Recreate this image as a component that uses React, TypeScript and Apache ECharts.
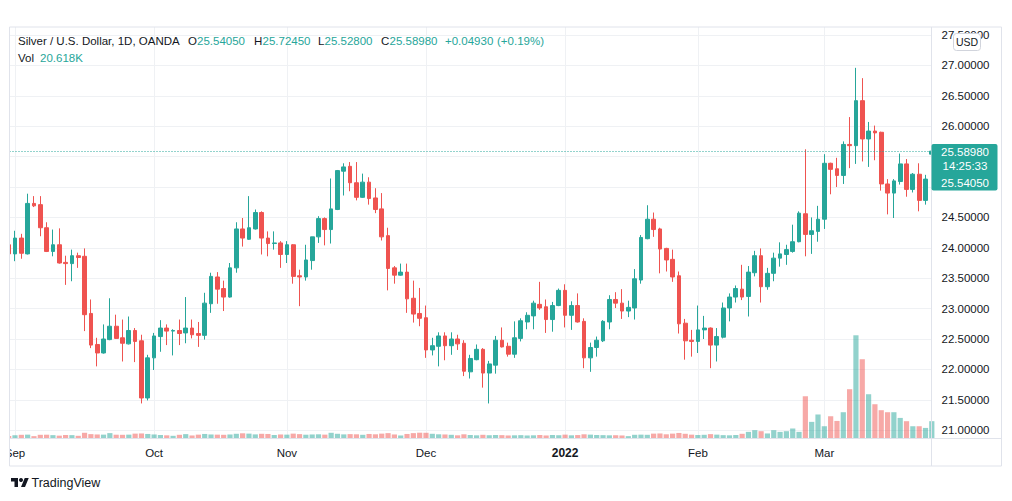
import React, { useEffect, useRef } from 'react';
import * as echarts from 'echarts';

// ---- data (bar index 0 = 1 Sep 2021, -1 = 31 Aug) ----
const firstIndex = -1;
const open = [
  24.05,
  23.90, 24.16, 23.90, 24.73, 24.71, 24.33, 23.94, 24.05, 23.76, 23.74,
  23.87, 23.86, 22.92, 22.41, 22.27, 22.49, 22.71, 22.52, 22.42, 22.64,
  22.47, 21.53, 22.19, 22.54, 22.68, 22.63, 22.64, 22.60, 22.68, 22.59,
  22.56, 23.08, 23.52, 23.33, 23.19, 23.67, 24.31, 24.14, 24.31, 24.58,
  24.16, 24.07, 24.08, 23.89, 24.05, 23.54, 23.52, 23.79, 24.18, 24.48,
  24.30, 24.63, 25.26, 25.34, 25.07, 24.83, 25.08, 24.82, 24.64, 24.20,
  23.67, 23.55, 23.60, 23.17, 22.92, 22.85, 22.32, 22.38, 22.55, 22.39,
  22.50, 22.43, 21.96, 22.16, 22.33, 21.94, 22.07, 22.48, 22.38, 22.25,
  22.51, 22.78, 22.88, 23.07, 23.03, 22.82, 23.05, 23.30, 22.89, 23.05,
  22.79, 22.19, 22.36, 22.47, 22.78, 23.15, 23.09, 22.96, 23.01, 23.47,
  24.15, 24.47, 24.31, 23.99, 23.81, 23.54, 22.76, 22.48, 22.46, 22.65,
  22.68, 22.40, 22.53, 23.01, 23.19, 23.32, 23.20, 23.59, 23.87, 23.36,
  23.58, 23.83, 23.89, 23.94, 24.10, 24.56, 24.22, 24.27, 24.47, 25.39,
  25.30, 25.19, 25.70, 25.68, 26.42, 25.79, 25.92, 25.90, 25.05, 24.90,
  25.09, 25.38, 24.96, 25.21, 24.78, 25.5405,
];
const close = [
  23.90,
  24.16, 23.91, 24.73, 24.69, 24.33, 23.94, 24.05, 23.75, 23.74, 23.87,
  23.84, 22.90, 22.40, 22.27, 22.50, 22.71, 22.51, 22.43, 22.64, 22.46,
  21.53, 22.19, 22.55, 22.68, 22.63, 22.64, 22.59, 22.68, 22.57, 22.56,
  23.09, 23.53, 23.32, 23.19, 23.67, 24.31, 24.16, 24.33, 24.58, 24.16,
  24.07, 24.08, 23.89, 24.05, 23.53, 23.52, 23.80, 24.18, 24.48, 24.30,
  24.64, 25.27, 25.33, 25.07, 24.83, 25.08, 24.81, 24.63, 24.18, 23.66,
  23.55, 23.60, 23.16, 22.91, 22.84, 22.32, 22.39, 22.55, 22.39, 22.50,
  22.42, 21.97, 22.18, 22.33, 21.94, 22.09, 22.48, 22.37, 22.25, 22.52,
  22.80, 22.89, 23.09, 23.01, 22.82, 23.05, 23.30, 22.89, 23.05, 22.78,
  22.19, 22.36, 22.48, 22.79, 23.15, 23.09, 22.96, 23.02, 23.49, 24.17,
  24.47, 24.30, 23.98, 23.80, 23.52, 22.75, 22.47, 22.46, 22.65, 22.68,
  22.40, 22.54, 23.01, 23.19, 23.33, 23.19, 23.60, 23.87, 23.36, 23.58,
  23.83, 23.90, 23.97, 24.10, 24.57, 24.22, 24.28, 24.47, 25.39, 25.29,
  25.19, 25.70, 25.68, 26.42, 25.79, 25.92, 25.89, 25.05, 24.90, 25.10,
  25.38, 24.96, 25.21, 24.78, 25.13, 25.5898,
];
const high = [
  24.10,
  24.28, 24.23, 24.89, 24.85, 24.85, 24.42, 24.30, 24.32, 23.87, 23.97,
  23.92, 23.99, 23.15, 22.52, 22.74, 23.17, 22.90, 22.82, 22.87, 22.68,
  22.57, 22.24, 22.60, 22.81, 22.74, 22.66, 22.82, 23.19, 22.82, 22.78,
  23.26, 23.59, 23.60, 23.46, 23.75, 24.42, 24.49, 24.85, 24.63, 24.60,
  24.27, 24.27, 24.11, 24.11, 24.06, 23.64, 24.05, 24.18, 24.52, 24.50,
  25.14, 25.28, 25.39, 25.41, 25.41, 25.22, 25.16, 24.98, 24.90, 24.33,
  23.70, 23.74, 23.74, 23.46, 23.34, 23.05, 22.52, 22.61, 22.61, 22.61,
  22.57, 22.48, 22.24, 22.41, 22.35, 22.14, 22.55, 22.69, 22.44, 22.79,
  22.84, 22.94, 23.13, 23.44, 23.15, 23.11, 23.33, 23.40, 23.12, 23.25,
  22.84, 22.44, 22.54, 22.81, 23.22, 23.27, 23.32, 23.13, 23.65, 24.21,
  24.70, 24.58, 24.33, 24.00, 23.97, 23.61, 22.83, 22.65, 23.05, 22.88,
  22.69, 22.68, 23.10, 23.25, 23.38, 23.72, 23.70, 23.95, 23.99, 23.67,
  23.92, 24.09, 24.05, 24.38, 24.60, 25.62, 24.50, 24.69, 25.54, 25.40,
  25.48, 25.75, 26.15, 26.96, 26.79, 26.07, 26.01, 25.91, 25.13, 25.13,
  25.55, 25.46, 25.23, 25.39, 25.20, 25.7245,
];
const low = [
  23.86,
  23.78, 23.82, 23.89, 24.67, 24.19, 23.93, 23.86, 23.74, 23.39, 23.45,
  23.67, 22.63, 22.35, 22.05, 22.26, 22.48, 22.50, 22.13, 22.41, 22.12,
  21.44, 21.49, 21.99, 22.29, 22.40, 22.23, 22.40, 22.43, 22.51, 22.37,
  22.49, 22.93, 23.08, 22.96, 23.18, 23.59, 24.02, 24.13, 24.30, 23.89,
  23.86, 23.97, 23.67, 23.75, 23.41, 23.04, 23.46, 23.64, 24.08, 24.04,
  24.07, 24.62, 24.86, 24.93, 24.78, 24.82, 24.71, 24.57, 24.12, 23.30,
  23.41, 23.54, 22.93, 22.77, 22.71, 22.19, 22.23, 22.05, 22.15, 22.24,
  22.32, 21.89, 21.85, 22.15, 21.70, 21.44, 21.93, 22.36, 22.21, 22.19,
  22.46, 22.66, 22.66, 22.98, 22.60, 22.62, 23.04, 22.69, 22.65, 22.77,
  22.02, 21.96, 22.21, 22.45, 22.66, 23.01, 22.83, 22.86, 22.82, 23.41,
  24.14, 24.18, 23.58, 23.61, 23.44, 22.59, 22.16, 22.21, 22.27, 22.50,
  22.02, 22.13, 22.51, 22.79, 23.10, 23.14, 22.87, 23.53, 23.10, 23.31,
  23.45, 23.69, 23.72, 23.92, 24.09, 23.86, 23.90, 24.10, 24.31, 24.88,
  25.00, 25.05, 25.31, 25.38, 25.42, 25.33, 25.44, 24.94, 24.55, 24.49,
  25.04, 24.84, 24.91, 24.60, 24.71, 25.528,
];
// volume in thousands
const volume = [
  3.0,
  3.8, 4.4, 4.6, 2.8, 4.4, 4.5, 4.0, 3.4, 4.2, 4.0,
  3.2, 6.8, 5.2, 4.8, 4.6, 6.4, 4.5, 4.4, 4.6, 5.8,
  6.0, 5.4, 4.8, 4.2, 3.8, 3.2, 4.4, 5.2, 3.6, 4.6,
  5.4, 4.8, 4.6, 4.4, 4.8, 5.6, 6.2, 5.8, 4.9, 5.6,
  5.4, 4.2, 4.8, 4.6, 5.8, 5.2, 4.5, 4.8, 5.0, 4.6,
  6.8, 5.6, 4.9, 5.2, 5.0, 4.4, 5.4, 5.0, 5.8, 6.4,
  4.8, 3.6, 5.4, 6.4, 6.9, 6.8, 5.6, 5.0, 4.8, 4.4,
  3.8, 5.0, 4.2, 3.8, 4.4, 3.9, 4.2, 4.0, 3.6, 3.8,
  4.0, 3.6, 3.8, 4.2, 3.6, 4.2, 3.9, 4.6, 3.8, 4.1,
  5.0, 4.6, 4.2, 4.0, 3.8, 3.9, 3.6, 2.8, 4.4, 4.6,
  4.4, 5.8, 6.0, 5.0, 5.8, 6.6, 5.6, 4.6, 4.2, 4.4,
  5.2, 4.6, 4.0, 3.8, 4.2, 5.6, 7.9, 9.9, 8.7, 6.0,
  9.9, 7.9, 8.7, 11.9, 7.9, 50.3, 19.8, 28.6, 14.6, 26.5,
  20.9, 31.3, 58.7, 122.9, 94.4, 52.7, 40.8, 33.7, 31.3, 31.3,
  24.5, 20.6, 14.6, 14.6, 12.6, 20.618,
];
const monthTicks = [0, 22, 43, 65, 87, 108, 128];
const monthLabels = ['Sep', 'Oct', 'Nov', 'Dec', '2022', 'Feb', 'Mar'];
const hiddenPriceLabels = [25.5, 25.0];
const headerTitle = 'Silver / U.S. Dollar, 1D, OANDA';
const headerFields = [
  { k: 'O', v: '25.54050' },
  { k: 'H', v: '25.72450' },
  { k: 'L', v: '25.52800' },
  { k: 'C', v: '25.58980' },
];
const headerChange = '+0.04930';
const headerChangePct = '(+0.19%)';
const volText = '20.618K';
const priceLabelLines = ['25.58980', '14:25:33', '25.54050'];

// ---- styling ----
const FONT = "'Liberation Sans', Arial, sans-serif";
const UP = '#26a69a';
const DOWN = '#ef5350';
const UP_VOL = 'rgba(38,166,154,0.5)';
const DOWN_VOL = 'rgba(239,83,80,0.5)';
const TEXT = '#131722';
const GRID = '#eff1f4';
const BORDER = '#e0e3eb';
const X_MIN = -0.87;
const X_MAX = 144.95;
const VOL_MAX = 490;

let registered = false;
function ensureShapes() {
  if (registered) return;
  registered = true;
  echarts.graphic.registerShape(
    'tvlogo',
    echarts.graphic.extendPath('M14 22H7V11H0V4h14v18zM28 22h-8l7.5-18h8L28 22z', {})
  );
}

function buildOption() {
  const candleData = open.map((o, k) => [k + firstIndex, o, close[k], low[k], high[k]]);
  const volData = volume.map((v, k) => ({
    value: [k + firstIndex, v],
    itemStyle: { color: close[k] >= open[k] ? UP_VOL : DOWN_VOL },
  }));
  const lastClose = close[close.length - 1];

  const t = (text: string, x: number, y: number, fill: string, size = 11.5, extra: any = {}) => ({
    type: 'text',
    z: 100,
    style: {
      text, x, y, fill,
      font: `${extra.weight || 'normal'} ${size}px ${FONT}`,
      textAlign: extra.align || 'left', align: extra.align || 'left',
      textVerticalAlign: 'middle', verticalAlign: 'middle',
    },
  });

  const headerEls: any[] = [t(headerTitle, 18, 41, TEXT)];
  const fieldX = [188, 254, 318, 381];
  const keyW: Record<string, number> = { O: 9, H: 8.5, L: 6.5, C: 8.5 };
  headerFields.forEach((f, i) => {
    headerEls.push(t(f.k, fieldX[i], 41, TEXT));
    headerEls.push(t(f.v, fieldX[i] + keyW[f.k], 41, UP));
  });
  headerEls.push(t(headerChange, 445, 41, UP));
  headerEls.push(t(headerChangePct, 497, 41, UP));
  headerEls.push(t('Vol', 18, 57.5, TEXT));
  headerEls.push(t(volText, 40, 57.5, UP));

  const graphic: any[] = [
    { type: 'rect', z: 99, shape: { x: 0, y: 27, width: 9.5, height: 439 }, style: { fill: '#fff' } },
    { type: 'rect', z: 100, shape: { x: 9.5, y: 27, width: 992, height: 439 }, style: { fill: 'none', stroke: BORDER, lineWidth: 1 } },
    { type: 'line', z: 100, shape: { x1: 931.5, y1: 27, x2: 931.5, y2: 466 }, style: { stroke: BORDER, lineWidth: 1 } },
    { type: 'line', z: 100, shape: { x1: 9.5, y1: 438.5, x2: 1001.5, y2: 438.5 }, style: { stroke: BORDER, lineWidth: 1 } },
    { type: 'rect', z: 100, shape: { x: 931.5, y: 144, width: 66, height: 46.5, r: 2 }, style: { fill: UP } },
    t(priceLabelLines[0], 965, 151.8, '#ffffff', 11.5, { align: 'center' }),
    t(priceLabelLines[1], 965, 166, '#ffffff', 11.5, { align: 'center' }),
    t(priceLabelLines[2], 965, 182.5, '#ffffff', 11.5, { align: 'center' }),
    { type: 'rect', z: 100, shape: { x: 953.5, y: 33.5, width: 27, height: 17, r: 3 }, style: { fill: '#ffffff', stroke: '#d1d4dc', lineWidth: 1 } },
    t('USD', 967, 42.2, TEXT, 10.5, { align: 'center' }),
    ...headerEls,
    { type: 'tvlogo', z: 100, x: 11, y: 476, scaleX: 0.5, scaleY: 0.5, style: { fill: TEXT } },
    { type: 'circle', z: 100, shape: { cx: 21, cy: 480, r: 2 }, style: { fill: TEXT } },
    t('TradingView', 31.5, 483, TEXT, 12.5),
  ];

  return {
    animation: false,
    backgroundColor: '#ffffff',
    grid: [
      { left: 9.5, right: 80.5, top: 27, bottom: 62.5 },
      { left: 9.5, right: 80.5, top: 35, bottom: 70.8 },
    ],
    xAxis: [
      {
        type: 'value', gridIndex: 0, min: X_MIN, max: X_MAX, position: 'bottom',
        axisLine: { show: false },
        axisTick: { show: false, customValues: monthTicks },
        axisLabel: {
          customValues: monthTicks,
          margin: 8,
          color: TEXT,
          fontSize: 11.5,
          fontFamily: FONT,
          formatter: (v: number) => {
            const k = monthTicks.indexOf(Math.round(v));
            const s = k >= 0 ? monthLabels[k] : '';
            return /^\d{4}$/.test(s) ? `{b|${s}}` : s;
          },
          rich: { b: { fontWeight: 'bold', fontSize: 12, color: TEXT, fontFamily: FONT } },
        },
        splitLine: { show: true, lineStyle: { color: GRID, width: 1 } },
      },
      { type: 'value', gridIndex: 1, min: X_MIN, max: X_MAX, show: false, splitLine: { show: false } },
    ],
    yAxis: [
      { type: 'value', gridIndex: 0, min: 0, max: VOL_MAX, show: false, splitLine: { show: false } },
      {
        type: 'value', gridIndex: 1, position: 'right', min: 21, max: 27.5, interval: 0.5,
        axisLine: { show: false },
        axisTick: { show: false },
        axisLabel: {
          margin: 10,
          color: TEXT,
          fontSize: 11.5,
          fontFamily: FONT,
          formatter: (v: number) => (hiddenPriceLabels.some((h) => Math.abs(h - v) < 1e-9) ? '' : v.toFixed(5)),
        },
        splitLine: { show: true, lineStyle: { color: GRID, width: 1 } },
      },
    ],
    series: [
      {
        type: 'bar', xAxisIndex: 0, yAxisIndex: 0, data: volData, barWidth: 5.2, clip: true,
        silent: true,
      },
      {
        type: 'candlestick', xAxisIndex: 1, yAxisIndex: 1, data: candleData,
        encode: { x: 0, y: [1, 2, 3, 4] },
        barWidth: 4.2,
        clip: true,
        silent: true,
        itemStyle: { color: UP, color0: DOWN, borderColor: UP, borderColor0: DOWN, borderWidth: 1 },
        markLine: {
          silent: true,
          symbol: ['none', 'none'],
          label: { show: false },
          lineStyle: { color: UP, type: [1, 2], width: 1 },
          data: [{ yAxis: lastClose }],
        },
      },
    ],
    graphic,
  };
}

export default function App() {
  const ref = useRef<HTMLDivElement>(null);
  useEffect(() => {
    ensureShapes();
    const chart = echarts.init(ref.current!, null, { renderer: 'svg' });
    chart.setOption(buildOption() as any);
    return () => chart.dispose();
  }, []);
  return (
    <div
      ref={ref}
      style={{ position: 'fixed', left: 0, top: 0, width: 1012, height: 501, background: '#fff' }}
    />
  );
}
